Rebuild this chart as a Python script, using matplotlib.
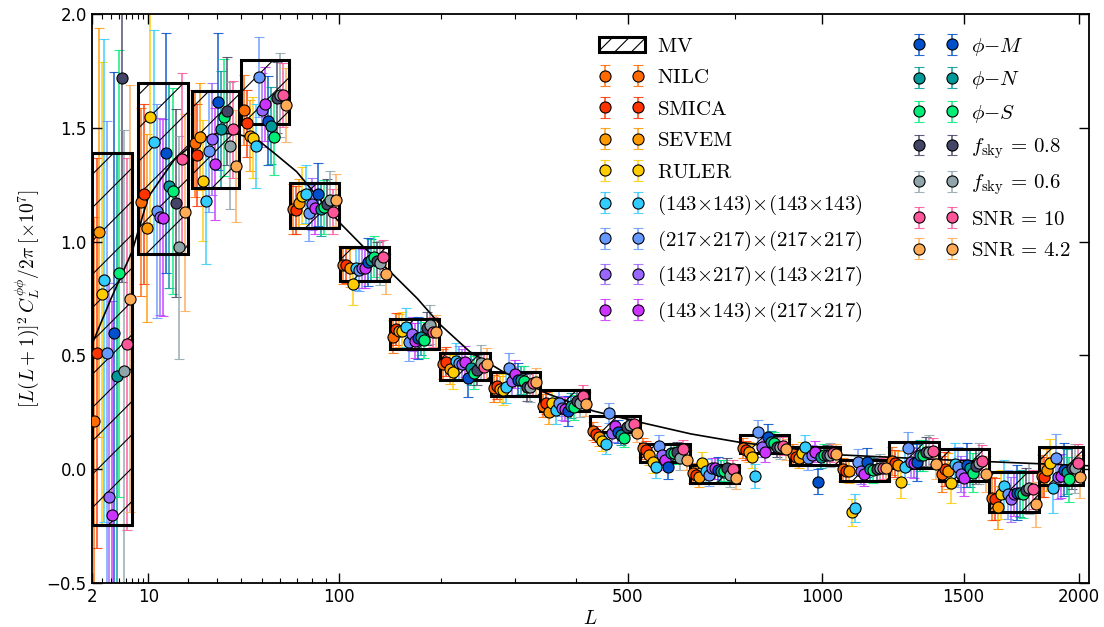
import numpy as np
import matplotlib
matplotlib.use('Agg')
import matplotlib.pyplot as plt
from matplotlib.patches import Rectangle, Patch
from matplotlib.colors import to_rgba

plt.rcParams['mathtext.fontset'] = 'cm'
plt.rcParams['hatch.linewidth'] = 0.8

# ------------------------------------------------------------------
# data
# ------------------------------------------------------------------
bin_lo = [2, 8, 21, 40, 66, 101, 145, 199, 264, 339, 426, 526, 638, 763, 902, 1056, 1221, 1404, 1602, 1817]
bin_hi = [7, 20, 39, 65, 100, 144, 198, 263, 338, 425, 525, 637, 762, 901, 1055, 1220, 1403, 1601, 1816, 2020]

mv_val = [0.571, 1.32, 1.448, 1.657, 1.16, 0.903, 0.593, 0.452, 0.376, 0.302,
          0.198, 0.072, -0.02, 0.11, 0.058, -0.006, 0.061, 0.0175, -0.10, 0.0155]
mv_err = [0.817, 0.376, 0.214, 0.141, 0.099, 0.075, 0.066, 0.06, 0.053, 0.046,
          0.035, 0.039, 0.04, 0.04, 0.04, 0.046, 0.057, 0.07, 0.086, 0.083]

theory_L = [2, 4, 7, 10, 16, 23, 30, 38, 48, 58, 70, 84, 101, 120, 145, 173, 199,
            236, 282, 350, 432, 526, 640, 763, 1056, 1408, 2048]
theory_val = [0.546, 0.75, 0.956, 1.197, 1.359, 1.446, 1.476, 1.473, 1.446, 1.38, 1.307,
              1.197, 1.08, 0.978, 0.868, 0.75, 0.635, 0.516, 0.428, 0.333, 0.256,
              0.206, 0.155, 0.118, 0.063, 0.042, 0.015]

nilc = [0.21, 1.175, 1.432, 1.578, 1.143, 0.897, 0.582, 0.461, 0.355, 0.278, 0.168, 0.095, -0.018, 0.092, 0.065, 0.0, 0.036, -0.021, -0.128, -0.03]
smica = [0.51, 1.208, 1.380, 1.52, 1.139, 0.897, 0.615, 0.473, 0.366, 0.29, 0.155, 0.084, -0.025, 0.084, 0.055, -0.01, 0.026, 0.0, -0.131, -0.033]
sevem = [1.04, 1.061, 1.461, 1.465, 1.168, 0.883, 0.609, 0.439, 0.352, 0.25, 0.14, 0.062, -0.033, 0.077, 0.048, -0.01, 0.018, -0.008, -0.168, -0.003]
ruler = [0.77, 1.546, 1.268, 1.457, 1.202, 0.814, 0.609, 0.426, 0.35, 0.29, 0.125, 0.033, 0.026, 0.055, 0.07, -0.19, -0.055, -0.062, -0.11, 0.029]
c143 = [0.83, 1.439, 1.178, 1.42, 1.209, 0.883, 0.623, 0.475, 0.36, 0.26, 0.111, 0.011, -0.006, -0.03, 0.099, -0.17, 0.011, 0.023, -0.072, -0.084]
c217 = [0.51, 1.134, 1.397, 1.722, 1.127, 0.877, 0.56, 0.465, 0.446, 0.292, 0.245, 0.103, -0.025, 0.165, 0.048, 0.03, 0.092, 0.011, -0.11, 0.051]
c143x217 = [-0.12, 1.109, 1.451, 1.578, 1.164, 0.883, 0.594, 0.461, 0.388, 0.27, 0.16, 0.062, 0.004, 0.099, 0.062, -0.01, 0.033, -0.021, -0.132, -0.035]
cmix = [-0.20, 1.105, 1.341, 1.605, 1.149, 0.883, 0.565, 0.473, 0.417, 0.266, 0.19, 0.04, 0.004, 0.077, 0.077, -0.02, 0.026, -0.037, -0.108, -0.03]
phi_m = [0.60, 1.388, 1.615, 1.532, 1.208, 0.91, 0.578, 0.40, 0.392, 0.256, 0.165, 0.011, -0.003, 0.143, -0.055, 0.03, 0.03, 0.018, -0.103, -0.003]
phi_n = [0.41, 1.246, 1.493, 1.508, 1.142, 0.92, 0.582, 0.443, 0.392, 0.278, 0.15, 0.07, -0.006, 0.121, 0.055, 0.0, 0.062, 0.004, -0.106, -0.011]
phi_s = [0.86, 1.222, 1.546, 1.461, 1.153, 0.934, 0.568, 0.424, 0.388, 0.272, 0.139, 0.07, -0.006, 0.114, 0.062, -0.005, 0.062, -0.015, -0.11, -0.044]
fsky08 = [1.72, 1.171, 1.574, 1.632, 1.164, 0.915, 0.619, 0.436, 0.36, 0.301, 0.187, 0.077, 0.004, 0.099, 0.062, 0.0, 0.077, 0.014, -0.091, 0.004]
fsky06 = [0.43, 0.975, 1.421, 1.644, 1.183, 0.907, 0.634, 0.468, 0.363, 0.29, 0.194, 0.048, -0.025, 0.099, 0.062, 0.005, 0.077, 0.026, -0.084, 0.004]
snr10 = [0.55, 1.363, 1.493, 1.644, 1.132, 0.931, 0.601, 0.45, 0.378, 0.322, 0.2, 0.089, 0.0, 0.103, 0.07, 0.005, 0.081, 0.037, -0.088, 0.026]
snr42 = [0.75, 1.129, 1.334, 1.60, 1.183, 0.858, 0.601, 0.462, 0.384, 0.285, 0.16, 0.04, -0.04, 0.087, 0.065, 0.005, 0.022, -0.021, -0.153, -0.033]

series = [nilc, smica, sevem, ruler, c143, c217, c143x217, cmix,
          phi_m, phi_n, phi_s, fsky08, fsky06, snr10, snr42]
# error size of each variant relative to the MV error
err_scale = [1.1, 1.05, 1.1, 1.25, 1.3, 1.25, 1.15, 1.15, 1.4, 1.2, 1.2, 1.1, 1.3, 1.0, 1.15]
labels = [r'$\mathrm{NILC}$', r'$\mathrm{SMICA}$', r'$\mathrm{SEVEM}$', r'$\mathrm{RULER}$',
          r'$(143{\times}143){\times}(143{\times}143)$',
          r'$(217{\times}217){\times}(217{\times}217)$',
          r'$(143{\times}217){\times}(143{\times}217)$',
          r'$(143{\times}143){\times}(217{\times}217)$',
          r'$\phi{-}M$', r'$\phi{-}N$', r'$\phi{-}S$',
          r'$f_{\rm sky}\,{=}\,0.8$', r'$f_{\rm sky}\,{=}\,0.6$',
          r'$\mathrm{SNR}\,{=}\,10$', r'$\mathrm{SNR}\,{=}\,4.2$']
colors = ['#ff6a00', '#ff3300', '#ff9900', '#ffcc00', '#33ccff', '#6699ff', '#9966ff',
          '#cc33ff', '#0050cc', '#009999', '#00ee77', '#444466', '#8fa5aa', '#ff5599', '#ffaa55']

# ------------------------------------------------------------------
# plot
# ------------------------------------------------------------------
def fwd(L):
    return np.power(np.clip(np.asarray(L, dtype=float) + 0.5, 1e-6, None), 0.4)

def inv(u):
    return np.power(np.clip(np.asarray(u, dtype=float), 0, None), 2.5) - 0.5

fig = plt.figure(figsize=(11.04, 6.27), dpi=100)
ax = fig.add_axes([91.7 / 1104, 1 - 583 / 627, (1089 - 91.7) / 1104, (583 - 14) / 627])
ax.set_xscale('function', functions=(fwd, inv))
ax.set_xlim(2, 2048)
ax.set_ylim(-0.5, 2.0)

lo_u = fwd(bin_lo)
hi_u = fwd(bin_hi)
nser = len(series)

handles = []
for i, (vals, col, lab, sc) in enumerate(zip(series, colors, labels, err_scale)):
    xpos = inv(lo_u + (i + 1) / (nser + 1) * (hi_u - lo_u))
    cont = ax.errorbar(xpos, vals, yerr=np.array(mv_err) * sc, fmt='o', ms=8,
                       mfc=col, mec='k', mew=0.8, ecolor=to_rgba(col, 0.85),
                       elinewidth=1.2, capsize=3.5, capthick=1.2, label=lab)
    cont.lines[0].set_zorder(4)
    for c in cont.lines[1]:
        c.set_zorder(1)
    for b in cont.lines[2]:
        b.set_zorder(1)
    handles.append(cont)

for lo, hi, v, e in zip(bin_lo, bin_hi, mv_val, mv_err):
    ax.add_patch(Rectangle((lo, v - e), hi - lo, 2 * e, fill=False, edgecolor='k',
                           lw=2.2, hatch='/', zorder=2))

ax.plot(theory_L, theory_val, color='k', lw=1.2, zorder=3)

mv_handle = Patch(facecolor='none', edgecolor='k', lw=2.2, hatch='//', label=r'$\mathrm{MV}$')
blank = Patch(facecolor='none', edgecolor='none', label=' ')
leg_h = [mv_handle] + handles[:8] + handles[8:] + [blank, blank]
leg_l = [h.get_label() for h in leg_h]
ax.legend(leg_h, leg_l, ncol=2, loc='upper left', frameon=False, fontsize=15,
          numpoints=2, handlelength=2.2, handletextpad=0.6, columnspacing=2.4,
          labelspacing=0.55, bbox_to_anchor=(580 / 1104, 1 - 17 / 627),
          bbox_transform=fig.transFigure)

# axes, ticks
ax.set_xticks([2, 10, 100, 500, 1000, 1500, 2000])
ax.set_xticklabels(['2', '10', '100', '500', '1000', '1500', '2000'])
ax.set_xticks([3, 4, 5, 6, 7, 8, 9, 20, 30, 40, 50, 60, 70, 80, 90, 200, 300, 400, 750], minor=True)
ax.set_yticks([-0.5, 0.0, 0.5, 1.0, 1.5, 2.0])
ax.set_yticklabels(['\u22120.5', '0.0', '0.5', '1.0', '1.5', '2.0'])
ax.tick_params(which='both', direction='in', top=True, right=True, labelsize=12)
ax.tick_params(which='major', length=7, width=1)
ax.tick_params(which='minor', length=3.5, width=0.8)
for s in ax.spines.values():
    s.set_linewidth(1.3)

ax.set_xlabel(r'$L$', fontsize=14, labelpad=2)
ax.set_ylabel(r'$[L(L+1)]^2\,C_L^{\phi\phi}/2\pi\;[\times10^7]$', fontsize=14, labelpad=4)

fig.savefig('out.png', dpi=100)
